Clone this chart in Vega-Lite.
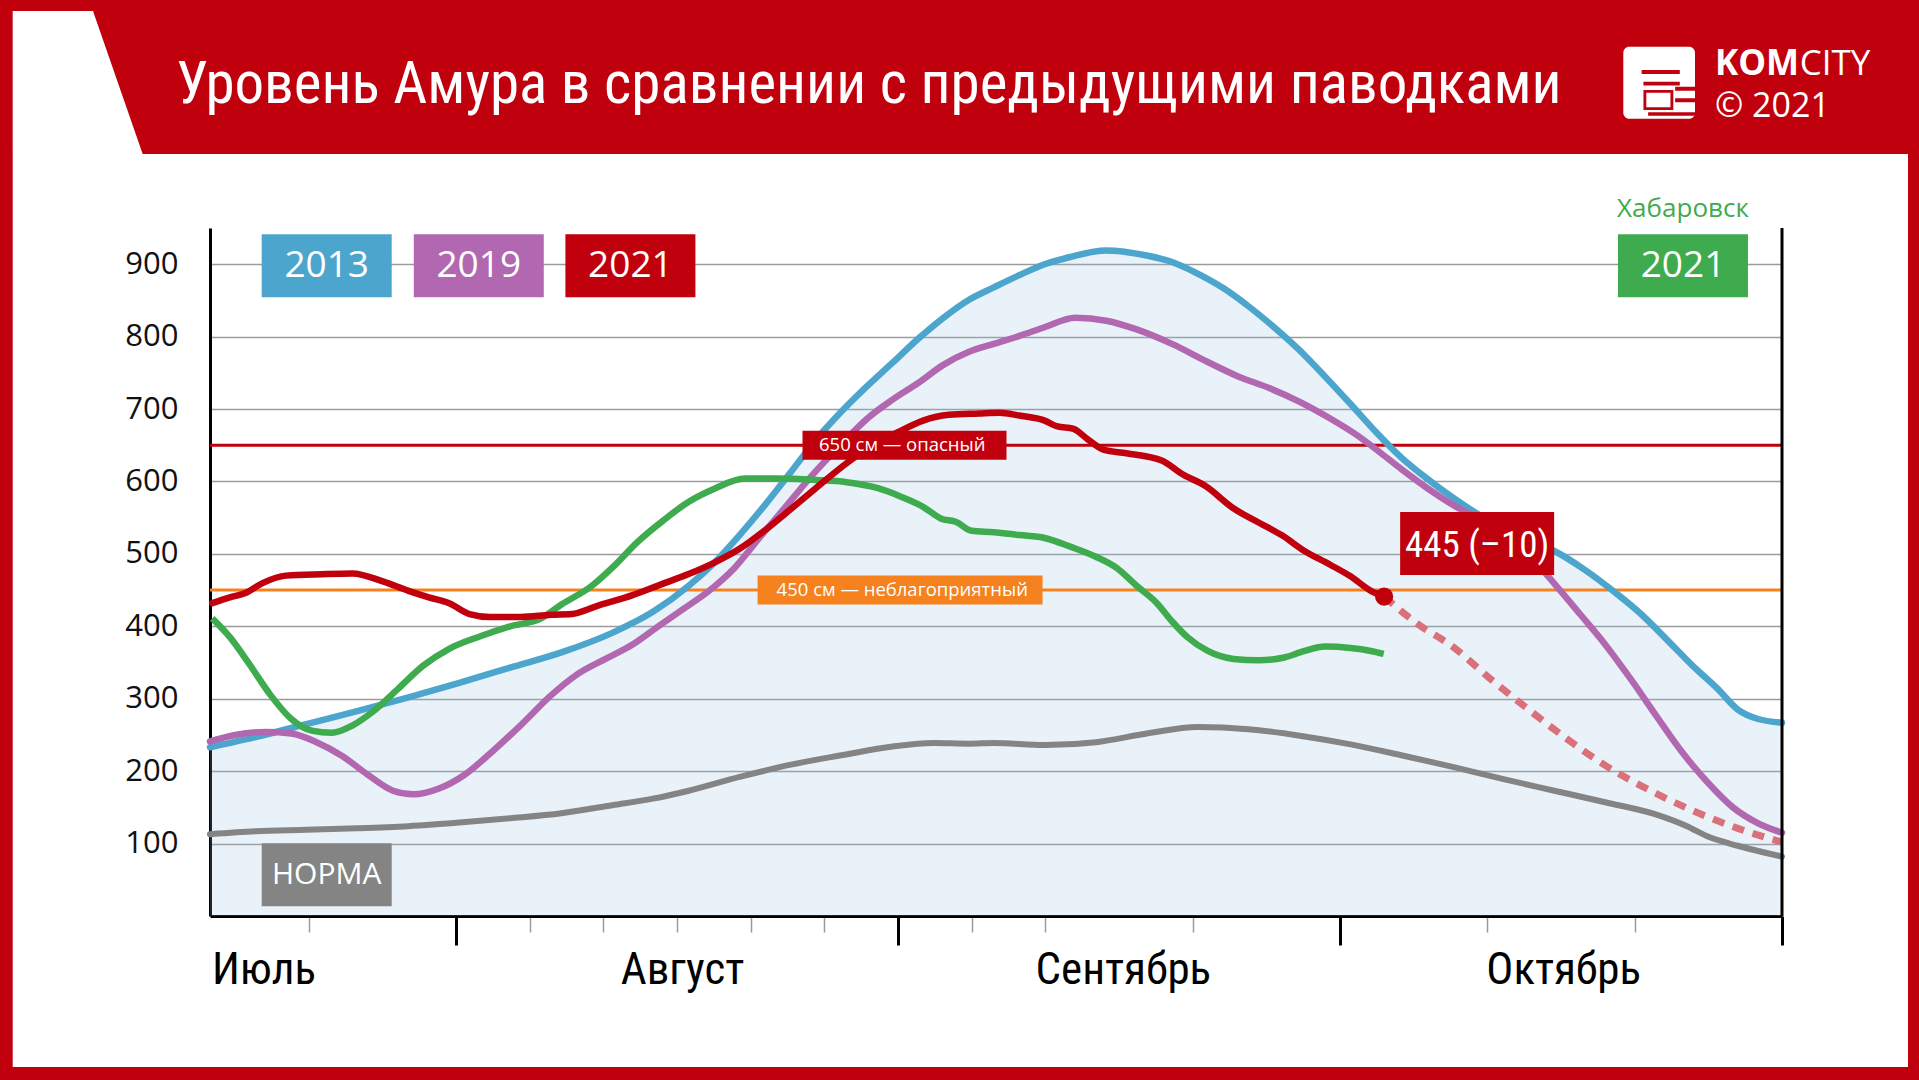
{
  "$schema": "https://vega.github.io/schema/vega-lite/v6.json",
  "width": 1572,
  "height": 688,
  "autosize": {"type": "none"},
  "padding": {"left": 210, "top": 228, "right": 137, "bottom": 164},
  "background": "white",
  "config": {"view": {"stroke": null}},
  "datasets": {
    "series": [
      {"series":"2013","t":0.444,"level":233},{"series":"2013","t":0.547,"level":247},{"series":"2013","t":0.662,"level":265},{"series":"2013","t":0.777,"level":283},{"series":"2013","t":0.893,"level":302},{"series":"2013","t":1.008,"level":322},{"series":"2013","t":1.123,"level":343},{"series":"2013","t":1.239,"level":364},{"series":"2013","t":1.354,"level":391},{"series":"2013","t":1.446,"level":420},{"series":"2013","t":1.527,"level":456},{"series":"2013","t":1.585,"level":488},{"series":"2013","t":1.642,"level":526},{"series":"2013","t":1.7,"level":568},{"series":"2013","t":1.758,"level":613},{"series":"2013","t":1.815,"level":658},{"series":"2013","t":1.873,"level":697},{"series":"2013","t":1.931,"level":732},{"series":"2013","t":1.988,"level":764},{"series":"2013","t":2.046,"level":797},{"series":"2013","t":2.103,"level":826},{"series":"2013","t":2.161,"level":851},{"series":"2013","t":2.217,"level":868},{"series":"2013","t":2.275,"level":885},{"series":"2013","t":2.332,"level":900},{"series":"2013","t":2.39,"level":910},{"series":"2013","t":2.471,"level":919},{"series":"2013","t":2.563,"level":912},{"series":"2013","t":2.62,"level":903},{"series":"2013","t":2.678,"level":887},{"series":"2013","t":2.736,"level":867},{"series":"2013","t":2.793,"level":842},{"series":"2013","t":2.851,"level":813},{"series":"2013","t":2.909,"level":781},{"series":"2013","t":2.966,"level":745},{"series":"2013","t":3.024,"level":707},{"series":"2013","t":3.082,"level":668},{"series":"2013","t":3.139,"level":633},{"series":"2013","t":3.197,"level":604},{"series":"2013","t":3.255,"level":578},{"series":"2013","t":3.312,"level":555},{"series":"2013","t":3.37,"level":535},{"series":"2013","t":3.428,"level":518},{"series":"2013","t":3.485,"level":504},{"series":"2013","t":3.554,"level":478},{"series":"2013","t":3.624,"level":446},{"series":"2013","t":3.681,"level":417},{"series":"2013","t":3.739,"level":382},{"series":"2013","t":3.797,"level":346},{"series":"2013","t":3.854,"level":314},{"series":"2013","t":3.9,"level":285},{"series":"2013","t":3.946,"level":272},{"series":"2013","t":4.0,"level":267},
      {"series":"2019","t":0.444,"level":241},{"series":"2019","t":0.501,"level":250},{"series":"2019","t":0.57,"level":254},{"series":"2019","t":0.628,"level":252},{"series":"2019","t":0.685,"level":240},{"series":"2019","t":0.743,"level":221},{"series":"2019","t":0.801,"level":195},{"series":"2019","t":0.858,"level":173},{"series":"2019","t":0.904,"level":168},{"series":"2019","t":0.962,"level":176},{"series":"2019","t":1.02,"level":195},{"series":"2019","t":1.077,"level":224},{"series":"2019","t":1.146,"level":263},{"series":"2019","t":1.216,"level":305},{"series":"2019","t":1.273,"level":333},{"series":"2019","t":1.342,"level":356},{"series":"2019","t":1.4,"level":375},{"series":"2019","t":1.458,"level":400},{"series":"2019","t":1.515,"level":424},{"series":"2019","t":1.573,"level":449},{"series":"2019","t":1.631,"level":481},{"series":"2019","t":1.688,"level":523},{"series":"2019","t":1.746,"level":565},{"series":"2019","t":1.804,"level":607},{"series":"2019","t":1.873,"level":652},{"series":"2019","t":1.931,"level":687},{"series":"2019","t":1.988,"level":713},{"series":"2019","t":2.046,"level":736},{"series":"2019","t":2.103,"level":761},{"series":"2019","t":2.161,"level":779},{"series":"2019","t":2.217,"level":790},{"series":"2019","t":2.275,"level":801},{"series":"2019","t":2.332,"level":813},{"series":"2019","t":2.401,"level":826},{"series":"2019","t":2.471,"level":822},{"series":"2019","t":2.54,"level":810},{"series":"2019","t":2.62,"level":790},{"series":"2019","t":2.701,"level":765},{"series":"2019","t":2.77,"level":745},{"series":"2019","t":2.84,"level":729},{"series":"2019","t":2.909,"level":710},{"series":"2019","t":2.978,"level":687},{"series":"2019","t":3.036,"level":665},{"series":"2019","t":3.093,"level":639},{"series":"2019","t":3.139,"level":617},{"series":"2019","t":3.197,"level":591},{"series":"2019","t":3.255,"level":568},{"series":"2019","t":3.312,"level":549},{"series":"2019","t":3.37,"level":530},{"series":"2019","t":3.439,"level":491},{"series":"2019","t":3.485,"level":459},{"series":"2019","t":3.543,"level":417},{"series":"2019","t":3.6,"level":375},{"series":"2019","t":3.658,"level":327},{"series":"2019","t":3.716,"level":276},{"series":"2019","t":3.773,"level":227},{"series":"2019","t":3.831,"level":185},{"series":"2019","t":3.889,"level":150},{"series":"2019","t":3.946,"level":128},{"series":"2019","t":4.0,"level":115},
      {"series":"2021","t":0.449,"level":432},{"series":"2021","t":0.489,"level":440},{"series":"2021","t":0.524,"level":446},{"series":"2021","t":0.564,"level":460},{"series":"2021","t":0.616,"level":470},{"series":"2021","t":0.697,"level":472},{"series":"2021","t":0.766,"level":473},{"series":"2021","t":0.835,"level":462},{"series":"2021","t":0.893,"level":449},{"series":"2021","t":0.939,"level":440},{"series":"2021","t":0.985,"level":432},{"series":"2021","t":1.031,"level":417},{"series":"2021","t":1.077,"level":413},{"series":"2021","t":1.146,"level":413},{"series":"2021","t":1.216,"level":416},{"series":"2021","t":1.262,"level":417},{"series":"2021","t":1.319,"level":428},{"series":"2021","t":1.4,"level":443},{"series":"2021","t":1.469,"level":459},{"series":"2021","t":1.538,"level":475},{"series":"2021","t":1.585,"level":488},{"series":"2021","t":1.642,"level":507},{"series":"2021","t":1.7,"level":533},{"series":"2021","t":1.758,"level":562},{"series":"2021","t":1.815,"level":591},{"series":"2021","t":1.873,"level":620},{"series":"2021","t":1.931,"level":646},{"series":"2021","t":2.0,"level":668},{"series":"2021","t":2.057,"level":684},{"series":"2021","t":2.115,"level":692},{"series":"2021","t":2.184,"level":694},{"series":"2021","t":2.23,"level":695},{"series":"2021","t":2.275,"level":691},{"series":"2021","t":2.332,"level":684},{"series":"2021","t":2.361,"level":676},{"series":"2021","t":2.396,"level":673},{"series":"2021","t":2.43,"level":658},{"series":"2021","t":2.465,"level":644},{"series":"2021","t":2.517,"level":639},{"series":"2021","t":2.597,"level":629},{"series":"2021","t":2.644,"level":610},{"series":"2021","t":2.695,"level":594},{"series":"2021","t":2.759,"level":563},{"series":"2021","t":2.817,"level":543},{"series":"2021","t":2.868,"level":526},{"series":"2021","t":2.92,"level":504},{"series":"2021","t":2.978,"level":485},{"series":"2021","t":3.024,"level":469},{"series":"2021","t":3.07,"level":449},{"series":"2021","t":3.1,"level":441},
      {"series":"Хабаровск 2021","t":0.449,"level":411},{"series":"Хабаровск 2021","t":0.489,"level":385},{"series":"Хабаровск 2021","t":0.535,"level":346},{"series":"Хабаровск 2021","t":0.581,"level":305},{"series":"Хабаровск 2021","t":0.628,"level":272},{"series":"Хабаровск 2021","t":0.674,"level":256},{"series":"Хабаровск 2021","t":0.72,"level":253},{"series":"Хабаровск 2021","t":0.766,"level":263},{"series":"Хабаровск 2021","t":0.812,"level":282},{"series":"Хабаровск 2021","t":0.87,"level":314},{"series":"Хабаровск 2021","t":0.927,"level":346},{"series":"Хабаровск 2021","t":0.985,"level":369},{"series":"Хабаровск 2021","t":1.054,"level":386},{"series":"Хабаровск 2021","t":1.123,"level":400},{"series":"Хабаровск 2021","t":1.193,"level":411},{"series":"Хабаровск 2021","t":1.239,"level":430},{"series":"Хабаровск 2021","t":1.308,"level":456},{"series":"Хабаровск 2021","t":1.354,"level":481},{"series":"Хабаровск 2021","t":1.412,"level":517},{"series":"Хабаровск 2021","t":1.469,"level":546},{"series":"Хабаровск 2021","t":1.527,"level":572},{"series":"Хабаровск 2021","t":1.585,"level":590},{"series":"Хабаровск 2021","t":1.654,"level":604},{"series":"Хабаровск 2021","t":1.723,"level":604},{"series":"Хабаровск 2021","t":1.815,"level":602},{"series":"Хабаровск 2021","t":1.884,"level":599},{"series":"Хабаровск 2021","t":1.953,"level":591},{"series":"Хабаровск 2021","t":2.011,"level":578},{"series":"Хабаровск 2021","t":2.057,"level":565},{"series":"Хабаровск 2021","t":2.097,"level":549},{"series":"Хабаровск 2021","t":2.132,"level":544},{"series":"Хабаровск 2021","t":2.167,"level":532},{"series":"Хабаровск 2021","t":2.217,"level":530},{"series":"Хабаровск 2021","t":2.275,"level":526},{"series":"Хабаровск 2021","t":2.332,"level":522},{"series":"Хабаровск 2021","t":2.39,"level":510},{"series":"Хабаровск 2021","t":2.448,"level":496},{"series":"Хабаровск 2021","t":2.494,"level":481},{"series":"Хабаровск 2021","t":2.54,"level":456},{"series":"Хабаровск 2021","t":2.586,"level":432},{"series":"Хабаровск 2021","t":2.62,"level":407},{"series":"Хабаровск 2021","t":2.655,"level":385},{"series":"Хабаровск 2021","t":2.701,"level":366},{"series":"Хабаровск 2021","t":2.759,"level":355},{"series":"Хабаровск 2021","t":2.816,"level":353},{"series":"Хабаровск 2021","t":2.874,"level":357},{"series":"Хабаровск 2021","t":2.92,"level":366},{"series":"Хабаровск 2021","t":2.966,"level":372},{"series":"Хабаровск 2021","t":3.024,"level":370},{"series":"Хабаровск 2021","t":3.07,"level":366},{"series":"Хабаровск 2021","t":3.099,"level":362},
      {"series":"Норма","t":0.444,"level":113},{"series":"Норма","t":0.547,"level":117},{"series":"Норма","t":0.662,"level":119},{"series":"Норма","t":0.777,"level":121},{"series":"Норма","t":0.893,"level":124},{"series":"Норма","t":1.008,"level":129},{"series":"Норма","t":1.123,"level":135},{"series":"Норма","t":1.239,"level":142},{"series":"Норма","t":1.354,"level":153},{"series":"Норма","t":1.446,"level":162},{"series":"Норма","t":1.527,"level":173},{"series":"Норма","t":1.642,"level":192},{"series":"Норма","t":1.758,"level":209},{"series":"Норма","t":1.873,"level":222},{"series":"Норма","t":1.988,"level":234},{"series":"Норма","t":2.08,"level":239},{"series":"Норма","t":2.161,"level":238},{"series":"Норма","t":2.217,"level":239},{"series":"Норма","t":2.332,"level":236},{"series":"Норма","t":2.448,"level":240},{"series":"Норма","t":2.563,"level":252},{"series":"Норма","t":2.678,"level":261},{"series":"Норма","t":2.793,"level":258},{"series":"Норма","t":2.909,"level":249},{"series":"Норма","t":3.024,"level":237},{"series":"Норма","t":3.139,"level":222},{"series":"Норма","t":3.255,"level":206},{"series":"Норма","t":3.37,"level":189},{"series":"Норма","t":3.485,"level":173},{"series":"Норма","t":3.6,"level":157},{"series":"Норма","t":3.716,"level":140},{"series":"Норма","t":3.785,"level":124},{"series":"Норма","t":3.831,"level":110},{"series":"Норма","t":3.9,"level":97},{"series":"Норма","t":4.0,"level":82},
      {"series":"Прогноз","t":3.1,"level":441},{"series":"Прогноз","t":3.174,"level":404},{"series":"Прогноз","t":3.255,"level":372},{"series":"Прогноз","t":3.347,"level":324},{"series":"Прогноз","t":3.427,"level":285},{"series":"Прогноз","t":3.508,"level":247},{"series":"Прогноз","t":3.6,"level":208},{"series":"Прогноз","t":3.716,"level":169},{"series":"Прогноз","t":3.831,"level":137},{"series":"Прогноз","t":3.9,"level":121},{"series":"Прогноз","t":4.0,"level":102}
    ],
    "levels": [
      {"level": 650, "kind": "опасный", "label": "650 см — опасный"},
      {"level": 450, "kind": "неблагоприятный", "label": "450 см — неблагоприятный"}
    ],
    "latest": [
      {"t": 3.1, "level": 441, "label": "445 (–10)"}
    ],
    "one": [{}]
  },
  "layer": [
    {
      "data": {"name": "series"},
      "transform": [{"filter": "datum.series === '2013'"}],
      "mark": {"type": "area", "interpolate": "monotone", "fill": "#96bee1", "fillOpacity": 0.2},
      "encoding": {
        "x": {"field": "t", "type": "quantitative",
          "scale": {"domain": [0.444, 4], "nice": false, "zero": false},
          "axis": {
            "title": null, "grid": false,
            "values": [0.565, 0.667, 1, 1.167, 1.333, 1.5, 1.512, 1.667, 1.833, 2, 2.167, 2.333, 2.509, 2.667, 3, 3.333, 3.505, 3.667, 4],
            "domainColor": "#000000", "domainWidth": 3,
            "tickColor": {"condition": [{"test": "datum.value % 1 === 0", "value": "#000000"}, {"test": "datum.value == 0.565 || datum.value == 1.512 || datum.value == 2.509 || datum.value == 3.505", "value": "rgba(0,0,0,0)"}], "value": "#9b9b9b"},
            "tickSize": {"condition": {"test": "datum.value % 1 === 0", "value": 29}, "value": 16},
            "tickWidth": {"condition": {"test": "datum.value % 1 === 0", "value": 3}, "value": 1.5},
            "labelExpr": "datum.value == 0.565 ? 'Июль' : datum.value == 1.512 ? 'Август' : datum.value == 2.509 ? 'Сентябрь' : datum.value == 3.505 ? 'Октябрь' : ''",
            "labelFont": "'Roboto Condensed', 'Liberation Sans Narrow', 'DejaVu Sans Condensed', sans-serif",
            "labelFontSize": 45, "labelColor": "#000000",
            "labelBaseline": "alphabetic", "labelPadding": 51,
            "labelOverlap": false, "labelFlush": false, "labelBound": false
          }
        },
        "y": {"field": "level", "type": "quantitative",
          "scale": {"domain": [0, 950], "nice": false, "zero": false},
          "axis": {
            "title": null, "values": [100, 200, 300, 400, 500, 600, 700, 800, 900],
            "grid": true, "gridColor": "#9b9b9b", "gridWidth": 1.5,
            "ticks": false, "domainColor": "#000000", "domainWidth": 3,
            "labelFont": "Open Sans", "labelFontSize": 31, "labelColor": "#111111",
            "labelPadding": 32
          }
        }
      }
    },
    {
      "data": {"name": "levels"},
      "mark": {"type": "rule", "strokeWidth": 3},
      "encoding": {
        "y": {"field": "level", "type": "quantitative"},
        "stroke": {"field": "kind", "type": "nominal", "scale": {"domain": ["опасный", "неблагоприятный"], "range": ["#c1000d", "#f5821f"]}, "legend": null}
      }
    },
    {
      "data": {"name": "series"},
      "transform": [{"filter": "datum.series === 'Норма'"}],
      "mark": {"type": "line", "interpolate": "monotone", "strokeWidth": 6, "strokeCap": "round"},
      "encoding": {
        "x": {"field": "t", "type": "quantitative"},
        "y": {"field": "level", "type": "quantitative"},
        "color": {"field": "series", "type": "nominal", "scale": {"domain": ["2013","2019","2021","Хабаровск 2021","Норма","Прогноз"], "range": ["#4ca5cd","#b268b0","#c1000d","#3fab4f","#848484","#d9707a"]}, "legend": null}
      }
    },
    {
      "data": {"name": "series"},
      "transform": [{"filter": "datum.series === '2013'"}],
      "mark": {"type": "line", "interpolate": "monotone", "strokeWidth": 6.5, "strokeCap": "round"},
      "encoding": {
        "x": {"field": "t", "type": "quantitative"},
        "y": {"field": "level", "type": "quantitative"},
        "color": {"field": "series", "type": "nominal", "scale": {"domain": ["2013","2019","2021","Хабаровск 2021","Норма","Прогноз"], "range": ["#4ca5cd","#b268b0","#c1000d","#3fab4f","#848484","#d9707a"]}, "legend": null}
      }
    },
    {
      "data": {"name": "series"},
      "transform": [{"filter": "datum.series === '2019'"}],
      "mark": {"type": "line", "interpolate": "monotone", "strokeWidth": 6.5, "strokeCap": "round"},
      "encoding": {
        "x": {"field": "t", "type": "quantitative"},
        "y": {"field": "level", "type": "quantitative"},
        "color": {"field": "series", "type": "nominal", "scale": {"domain": ["2013","2019","2021","Хабаровск 2021","Норма","Прогноз"], "range": ["#4ca5cd","#b268b0","#c1000d","#3fab4f","#848484","#d9707a"]}, "legend": null}
      }
    },
    {
      "data": {"name": "series"},
      "transform": [{"filter": "datum.series === 'Хабаровск 2021'"}],
      "mark": {"type": "line", "interpolate": "monotone", "strokeWidth": 6.5, "strokeCap": "butt"},
      "encoding": {
        "x": {"field": "t", "type": "quantitative"},
        "y": {"field": "level", "type": "quantitative"},
        "color": {"field": "series", "type": "nominal", "scale": {"domain": ["2013","2019","2021","Хабаровск 2021","Норма","Прогноз"], "range": ["#4ca5cd","#b268b0","#c1000d","#3fab4f","#848484","#d9707a"]}, "legend": null}
      }
    },
    {
      "data": {"name": "series"},
      "transform": [{"filter": "datum.series === 'Прогноз'"}],
      "mark": {"type": "line", "interpolate": "monotone", "strokeWidth": 7, "strokeDash": [12, 9]},
      "encoding": {
        "x": {"field": "t", "type": "quantitative"},
        "y": {"field": "level", "type": "quantitative"},
        "color": {"field": "series", "type": "nominal", "scale": {"domain": ["2013","2019","2021","Хабаровск 2021","Норма","Прогноз"], "range": ["#4ca5cd","#b268b0","#c1000d","#3fab4f","#848484","#d9707a"]}, "legend": null}
      }
    },
    {
      "data": {"name": "series"},
      "transform": [{"filter": "datum.series === '2021'"}],
      "mark": {"type": "line", "interpolate": "monotone", "strokeWidth": 6.5, "strokeCap": "round"},
      "encoding": {
        "x": {"field": "t", "type": "quantitative"},
        "y": {"field": "level", "type": "quantitative"},
        "color": {"field": "series", "type": "nominal", "scale": {"domain": ["2013","2019","2021","Хабаровск 2021","Норма","Прогноз"], "range": ["#4ca5cd","#b268b0","#c1000d","#3fab4f","#848484","#d9707a"]}, "legend": null}
      }
    },
    {
      "data": {"name": "latest"},
      "mark": {"type": "point", "filled": true, "size": 330, "opacity": 1, "color": "#c1000d", "strokeWidth": 0},
      "encoding": {
        "x": {"field": "t", "type": "quantitative"},
        "y": {"field": "level", "type": "quantitative"}
      }
    },
    {
      "data": {"name": "one"},
      "mark": {"type": "rule", "color": "#000000", "strokeWidth": 3, "clip": false},
      "encoding": {
        "x": {"datum": 4, "type": "quantitative"},
        "y": {"datum": 0, "type": "quantitative"},
        "y2": {"datum": 950}
      }
    },
    {
      "data": {"name": "levels"},
      "transform": [{"filter": "datum.kind === 'опасный'"}],
      "mark": {"type": "rect", "width": 204, "height": 29},
      "encoding": {
        "x": {"datum": 2.015, "type": "quantitative"},
        "y": {"field": "level", "type": "quantitative"},
        "fill": {"field": "kind", "type": "nominal", "scale": {"domain": ["опасный", "неблагоприятный"], "range": ["#c1000d", "#f5821f"]}, "legend": null}
      }
    },
    {
      "data": {"name": "levels"},
      "transform": [{"filter": "datum.kind === 'неблагоприятный'"}],
      "mark": {"type": "rect", "width": 285, "height": 29},
      "encoding": {
        "x": {"datum": 2.005, "type": "quantitative"},
        "y": {"field": "level", "type": "quantitative"},
        "fill": {"field": "kind", "type": "nominal", "scale": {"domain": ["опасный", "неблагоприятный"], "range": ["#c1000d", "#f5821f"]}, "legend": null}
      }
    },
    {
      "data": {"name": "levels"},
      "mark": {"type": "text", "font": "Open Sans", "fontSize": 18.5, "color": "white", "align": "center", "baseline": "middle"},
      "encoding": {
        "x": {"datum": 2.01, "type": "quantitative"},
        "y": {"field": "level", "type": "quantitative"},
        "text": {"field": "label"}
      }
    },
    {
      "data": {"name": "latest"},
      "mark": {"type": "rect", "width": 154, "height": 63, "xOffset": 93, "yOffset": -53, "color": "#c1000d"},
      "encoding": {
        "x": {"field": "t", "type": "quantitative"},
        "y": {"field": "level", "type": "quantitative"}
      }
    },
    {
      "data": {"name": "latest"},
      "mark": {"type": "text", "xOffset": 93, "yOffset": -51, "font": "'Roboto Condensed', 'Liberation Sans Narrow', 'DejaVu Sans Condensed', sans-serif", "fontSize": 37, "color": "white", "align": "center", "baseline": "middle"},
      "encoding": {
        "x": {"field": "t", "type": "quantitative"},
        "y": {"field": "level", "type": "quantitative"},
        "text": {"field": "label"}
      }
    },
    {
      "data": {"name": "one"},
      "mark": {"type": "rect", "width": 130, "height": 63},
      "encoding": {
        "x": {"datum": 0.708, "type": "quantitative"},
        "y": {"datum": 898, "type": "quantitative"},
        "color": {"datum": "2013", "type": "nominal", "scale": {"domain": ["2013","2019","2021","Хабаровск 2021","Норма","Прогноз"], "range": ["#4ca5cd","#b268b0","#c1000d","#3fab4f","#848484","#d9707a"]}, "legend": null}
      }
    },
    {
      "data": {"name": "one"},
      "mark": {"type": "rect", "width": 130, "height": 63},
      "encoding": {
        "x": {"datum": 1.052, "type": "quantitative"},
        "y": {"datum": 898, "type": "quantitative"},
        "color": {"datum": "2019", "type": "nominal", "scale": {"domain": ["2013","2019","2021","Хабаровск 2021","Норма","Прогноз"], "range": ["#4ca5cd","#b268b0","#c1000d","#3fab4f","#848484","#d9707a"]}, "legend": null}
      }
    },
    {
      "data": {"name": "one"},
      "mark": {"type": "rect", "width": 130, "height": 63},
      "encoding": {
        "x": {"datum": 1.395, "type": "quantitative"},
        "y": {"datum": 898, "type": "quantitative"},
        "color": {"datum": "2021", "type": "nominal", "scale": {"domain": ["2013","2019","2021","Хабаровск 2021","Норма","Прогноз"], "range": ["#4ca5cd","#b268b0","#c1000d","#3fab4f","#848484","#d9707a"]}, "legend": null}
      }
    },
    {
      "data": {"name": "one"},
      "mark": {"type": "rect", "width": 130, "height": 63},
      "encoding": {
        "x": {"datum": 3.776, "type": "quantitative"},
        "y": {"datum": 898, "type": "quantitative"},
        "color": {"datum": "Хабаровск 2021", "type": "nominal", "scale": {"domain": ["2013","2019","2021","Хабаровск 2021","Норма","Прогноз"], "range": ["#4ca5cd","#b268b0","#c1000d","#3fab4f","#848484","#d9707a"]}, "legend": null}
      }
    },
    {
      "data": {"name": "one"},
      "mark": {"type": "rect", "width": 130, "height": 63},
      "encoding": {
        "x": {"datum": 0.708, "type": "quantitative"},
        "y": {"datum": 57, "type": "quantitative"},
        "color": {"datum": "Норма", "type": "nominal", "scale": {"domain": ["2013","2019","2021","Хабаровск 2021","Норма","Прогноз"], "range": ["#4ca5cd","#b268b0","#c1000d","#3fab4f","#848484","#d9707a"]}, "legend": null}
      }
    },
    {
      "data": {"name": "one"},
      "mark": {"type": "text", "text": "2013", "font": "Open Sans", "fontSize": 37, "color": "white", "align": "center", "baseline": "middle"},
      "encoding": {"x": {"datum": 0.708, "type": "quantitative"}, "y": {"datum": 898, "type": "quantitative"}}
    },
    {
      "data": {"name": "one"},
      "mark": {"type": "text", "text": "2019", "font": "Open Sans", "fontSize": 37, "color": "white", "align": "center", "baseline": "middle"},
      "encoding": {"x": {"datum": 1.052, "type": "quantitative"}, "y": {"datum": 898, "type": "quantitative"}}
    },
    {
      "data": {"name": "one"},
      "mark": {"type": "text", "text": "2021", "font": "Open Sans", "fontSize": 37, "color": "white", "align": "center", "baseline": "middle"},
      "encoding": {"x": {"datum": 1.395, "type": "quantitative"}, "y": {"datum": 898, "type": "quantitative"}}
    },
    {
      "data": {"name": "one"},
      "mark": {"type": "text", "text": "2021", "font": "Open Sans", "fontSize": 37, "color": "white", "align": "center", "baseline": "middle"},
      "encoding": {"x": {"datum": 3.776, "type": "quantitative"}, "y": {"datum": 898, "type": "quantitative"}}
    },
    {
      "data": {"name": "one"},
      "mark": {"type": "text", "text": "НОРМА", "font": "Open Sans", "fontSize": 30, "color": "white", "align": "center", "baseline": "middle"},
      "encoding": {"x": {"datum": 0.708, "type": "quantitative"}, "y": {"datum": 57, "type": "quantitative"}}
    },
    {
      "data": {"name": "one"},
      "mark": {"type": "text", "text": "Хабаровск", "font": "Open Sans", "fontSize": 26, "color": "#3fab4f", "align": "center", "baseline": "alphabetic", "clip": false},
      "encoding": {"x": {"datum": 3.776, "type": "quantitative"}, "y": {"datum": 964.5, "type": "quantitative"}}
    },
    {
      "data": {"name": "one"},
      "mark": {"type": "rect", "color": "#c1000d", "clip": false},
      "encoding": {
        "x": {"datum": -0.6, "type": "quantitative"}, "x2": {"datum": 4.6},
        "y": {"datum": 1052.2, "type": "quantitative"}, "y2": {"datum": 1500}
      }
    },
    {
      "data": {"name": "one"},
      "mark": {"type": "rect", "color": "#c1000d", "clip": false},
      "encoding": {
        "x": {"datum": -0.6, "type": "quantitative"}, "x2": {"datum": -0.0023},
        "y": {"datum": -500, "type": "quantitative"}, "y2": {"datum": 1500}
      }
    },
    {
      "data": {"name": "one"},
      "mark": {"type": "rect", "color": "#c1000d", "clip": false},
      "encoding": {
        "x": {"datum": 4.285, "type": "quantitative"}, "x2": {"datum": 4.6},
        "y": {"datum": -500, "type": "quantitative"}, "y2": {"datum": 1500}
      }
    },
    {
      "data": {"name": "one"},
      "mark": {"type": "rect", "color": "#c1000d", "clip": false},
      "encoding": {
        "x": {"datum": -0.6, "type": "quantitative"}, "x2": {"datum": 4.6},
        "y": {"datum": -500, "type": "quantitative"}, "y2": {"datum": -208.5}
      }
    },
    {
      "data": {"name": "one"},
      "mark": {"type": "point", "shape": "M-1,-1L0.123,-1L0.818,1L-1,1Z", "filled": true, "opacity": 1, "color": "white", "strokeWidth": 0, "size": 20449, "clip": false},
      "encoding": {"x": {"datum": 0.1594, "type": "quantitative"}, "y": {"datum": 1150.9, "type": "quantitative"}}
    },
    {
      "data": {"name": "one"},
      "mark": {"type": "text", "text": "Уровень Амура в сравнении с предыдущими паводками", "font": "'Roboto Condensed', 'Liberation Sans Narrow', 'DejaVu Sans Condensed', sans-serif", "fontSize": 59, "color": "white", "align": "left", "baseline": "alphabetic", "clip": false},
      "encoding": {"x": {"datum": 0.3671, "type": "quantitative"}, "y": {"datum": 1122, "type": "quantitative"}}
    },
    {
      "data": {"name": "one"},
      "mark": {"type": "rect", "color": "white", "cornerRadius": 6, "clip": false},
      "encoding": {
        "x": {"datum": 3.641, "type": "quantitative"}, "x2": {"datum": 3.8032},
        "y": {"datum": 1100.9, "type": "quantitative"}, "y2": {"datum": 1200.4}
      }
    },
    {
      "data": {"name": "one"},
      "mark": {"type": "point", "shape": "M-0.49,-0.35H0.57V-0.24H-0.49Z M-0.44,-0.03H0.57V0.08H-0.44Z M-0.44,0.2H0.39V0.76H-0.44Z M-0.36,0.28V0.68H0.31V0.28Z M0.44,0.11H1V0.22H0.44Z M0.44,0.43H1V0.54H0.44Z M-0.31,0.82H1V0.92H-0.31Z", "filled": true, "opacity": 1, "color": "#c1000d", "strokeWidth": 0, "size": 5184, "clip": false},
      "encoding": {"x": {"datum": 3.7224, "type": "quantitative"}, "y": {"datum": 1150.6, "type": "quantitative"}}
    },
    {
      "data": {"name": "one"},
      "mark": {"type": "text", "text": "KOM", "font": "Open Sans", "fontWeight": "bold", "fontSize": 35, "color": "white", "align": "left", "baseline": "alphabetic", "clip": false},
      "encoding": {"x": {"datum": 3.8484, "type": "quantitative"}, "y": {"datum": 1161.3, "type": "quantitative"}}
    },
    {
      "data": {"name": "one"},
      "mark": {"type": "text", "text": "CITY", "font": "Open Sans", "fontSize": 35, "color": "white", "align": "left", "baseline": "alphabetic", "clip": false},
      "encoding": {"x": {"datum": 4.04, "type": "quantitative"}, "y": {"datum": 1161.3, "type": "quantitative"}}
    },
    {
      "data": {"name": "one"},
      "mark": {"type": "text", "text": "© 2021", "font": "Open Sans", "fontSize": 34, "color": "white", "align": "left", "baseline": "alphabetic", "clip": false},
      "encoding": {"x": {"datum": 3.8484, "type": "quantitative"}, "y": {"datum": 1103.7, "type": "quantitative"}}
    }
  ]
}
